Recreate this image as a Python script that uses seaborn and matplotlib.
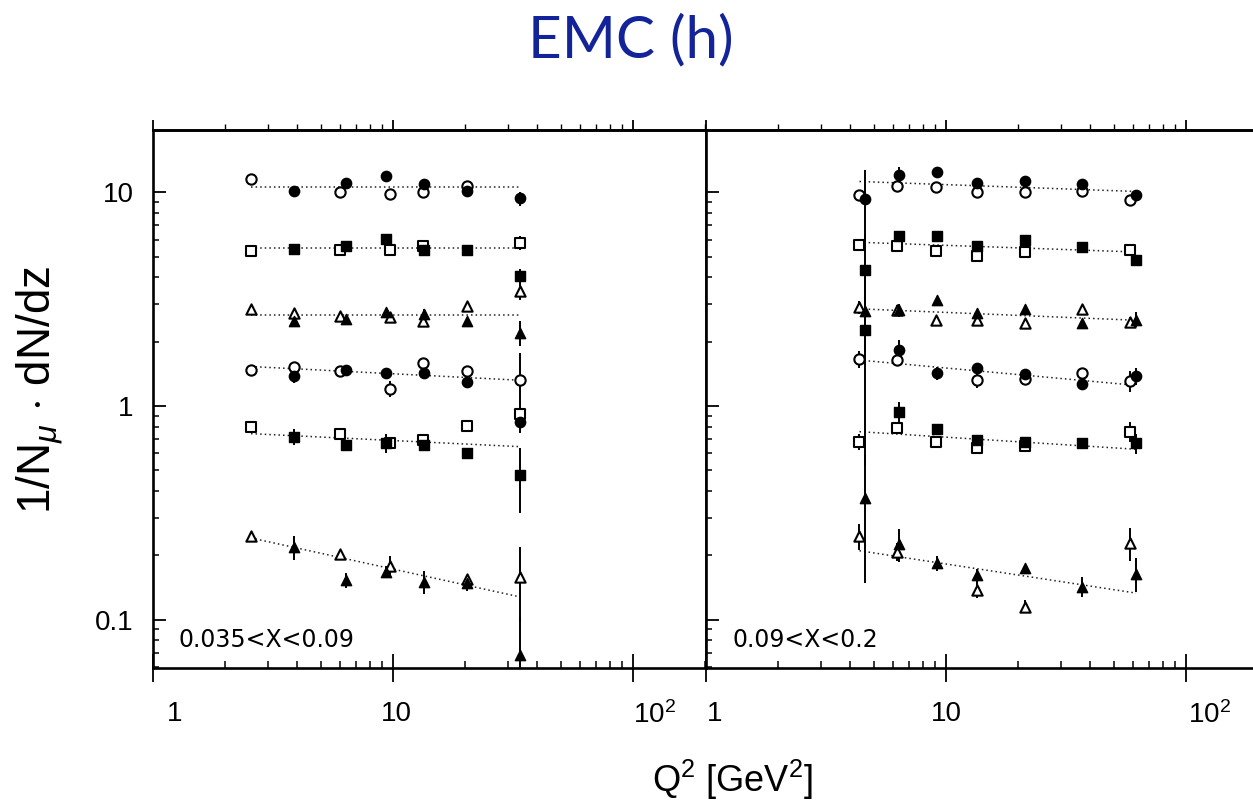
import numpy as np
import matplotlib
matplotlib.use("Agg")
import matplotlib.pyplot as plt
from matplotlib.ticker import FixedLocator, LogLocator, NullFormatter
from matplotlib.transforms import ScaledTranslation
import seaborn as sns

# ---------------------------------------------------------------------------
# Data: 1/N_mu dN/dz versus Q^2 for six z bins (rows, top to bottom).
# Rows alternate markers: circle, square, triangle, circle, square, triangle.
# Open symbols and filled symbols are two independent samples.
# ---------------------------------------------------------------------------
ROW_MARKERS = ["o", "s", "^", "o", "s", "^"]

# Panel 1: 0.035 < x < 0.09
L_OPEN_Q2 = [
    [2.56, 6.04, 9.72, 13.3, 20.4],
    [2.56, 6.04, 9.72, 13.3, 33.7],
    [2.56, 3.88, 6.04, 9.72, 13.3, 20.4, 33.7],
    [2.56, 3.88, 6.04, 9.72, 13.3, 20.4, 33.7],
    [2.56, 6.04, 9.72, 13.3, 20.4, 33.7],
    [2.56, 6.04, 9.72, 20.4, 33.7],
]
L_OPEN_Y = [
    [11.6, 10.0, 9.86, 10.0, 10.67],
    [5.30, 5.36, 5.39, 5.64, 5.80],
    [2.83, 2.73, 2.65, 2.61, 2.51, 2.95, 3.47],
    [1.48, 1.53, 1.46, 1.205, 1.59, 1.46, 1.32],
    [0.795, 0.74, 0.668, 0.693, 0.806, 0.92],
    [0.246, 0.203, 0.1775, 0.155, 0.158],
]
L_OPEN_ERR = [
    [0.0, 0.0, 0.0, 0.3, 0.0],
    [0.15, 0.0, 0.0, 0.2, 0.45],
    [0.0, 0.0, 0.0, 0.0, 0.15, 0.0, 0.35],
    [0.05, 0.0, 0.0, 0.1, 0.08, 0.06, 0.45],
    [0.03, 0.0, 0.04, 0.05, 0.04, 0.05],
    [0.0, 0.0, 0.02, 0.0, 0.06],
]
L_FILL_Q2 = [
    [3.88, 6.40, 9.39, 13.4, 20.3, 33.7],
    [3.88, 6.40, 9.39, 13.4, 20.3, 33.7],
    [3.88, 6.40, 9.39, 13.4, 20.3, 33.7],
    [3.88, 6.40, 9.39, 13.4, 20.3, 33.7],
    [3.88, 6.40, 9.39, 13.4, 20.3, 33.7],
    [3.88, 6.40, 9.39, 13.4, 20.3, 33.7],
]
L_FILL_Y = [
    [10.2, 11.06, 11.96, 10.98, 10.2, 9.37],
    [5.43, 5.64, 6.07, 5.39, 5.39, 4.05],
    [2.51, 2.56, 2.75, 2.71, 2.50, 2.20],
    [1.38, 1.48, 1.42, 1.43, 1.29, 0.844],
    [0.718, 0.657, 0.673, 0.657, 0.604, 0.475],
    [0.219, 0.153, 0.1675, 0.150, 0.1487, 0.068],
]
L_FILL_ERR = [
    [0.0, 0.4, 0.0, 0.4, 0.0, 0.7],
    [0.25, 0.0, 0.0, 0.0, 0.0, 0.35],
    [0.15, 0.0, 0.1, 0.15, 0.0, 0.3],
    [0.1, 0.0, 0.0, 0.06, 0.0, 0.1],
    [0.06, 0.03, 0.07, 0.04, 0.0, 0.16],
    [0.028, 0.012, 0.01, 0.018, 0.012, 0.035],
]
L_FIT_Q2 = [2.56, 33.7]
L_FIT_Y = [
    [10.55, 10.55],
    [5.50, 5.50],
    [2.68, 2.68],
    [1.53, 1.32],
    [0.742, 0.645],
    [0.241, 0.1277],
]

# Panel 2: 0.09 < x < 0.2
R_OPEN_Q2 = [
    [4.36, 6.22, 9.05, 13.49, 21.4, 36.8, 58.2],
    [4.36, 6.22, 9.05, 13.49, 21.4, 58.2],
    [4.36, 6.22, 9.05, 13.49, 21.4, 36.8, 58.2],
    [4.36, 6.22, 13.49, 21.4, 36.8, 58.2],
    [4.36, 6.22, 9.05, 13.49, 21.4, 58.2],
    [4.36, 6.22, 13.49, 21.4, 58.2],
]
R_OPEN_Y = [
    [9.75, 10.74, 10.55, 10.0, 10.0, 10.2, 9.24],
    [5.65, 5.64, 5.34, 5.06, 5.24, 5.39],
    [2.91, 2.81, 2.54, 2.54, 2.45, 2.83, 2.47],
    [1.664, 1.64, 1.318, 1.342, 1.432, 1.309],
    [0.681, 0.791, 0.681, 0.634, 0.650, 0.758],
    [0.246, 0.2077, 0.138, 0.115, 0.2275],
]
R_OPEN_ERR = [
    [0.5, 0.0, 0.0, 0.0, 0.0, 0.0, 0.3],
    [0.0, 0.0, 0.0, 0.0, 0.0, 0.3],
    [0.2, 0.15, 0.0, 0.1, 0.0, 0.0, 0.15],
    [0.15, 0.0, 0.1, 0.0, 0.0, 0.15],
    [0.06, 0.0, 0.0, 0.04, 0.0, 0.08],
    [0.035, 0.02, 0.012, 0.008, 0.04],
]
R_FILL_Q2 = [
    [4.6, 6.38, 9.2, 13.49, 21.4, 36.8, 61.9],
    [4.6, 6.38, 9.2, 13.49, 21.4, 36.8, 61.9],
    [4.6, 6.38, 9.2, 13.49, 21.4, 36.8, 61.9],
    [6.38, 9.2, 13.49, 21.4, 36.8, 61.9],
    [4.6, 6.38, 9.2, 13.49, 21.4, 36.8, 61.9],
    [4.6, 6.38, 9.2, 13.49, 21.4, 36.8, 61.9],
]
R_FILL_Y = [
    [9.34, 12.1, 12.4, 11.1, 11.3, 10.94, 9.75],
    [4.32, 6.27, 6.27, 5.64, 5.97, 5.53, 4.81],
    [2.78, 2.80, 3.15, 2.73, 2.83, 2.45, 2.54],
    [1.827, 1.43, 1.51, 1.406, 1.272, 1.38],
    [2.28, 0.940, 0.778, 0.693, 0.681, 0.673, 0.668],
    [0.369, 0.2256, 0.183, 0.161, 0.1745, 0.1424, 0.164],
]
R_FILL_ERR = [
    [3.4, 1.0, 0.0, 0.0, 0.5, 0.0, 0.0],
    [2.0, 0.0, 0.0, 0.0, 0.0, 0.2, 0.0],
    [1.0, 0.2, 0.0, 0.0, 0.0, 0.0, 0.2],
    [0.2, 0.1, 0.0, 0.0, 0.0, 0.12],
    [1.75, 0.1, 0.04, 0.04, 0.0, 0.03, 0.07],
    [0.22, 0.04, 0.015, 0.012, 0.0, 0.015, 0.03],
]
R_FIT_Q2 = [4.36, 61.9]
R_FIT_Y = [
    [11.25, 10.1],
    [5.84, 5.26],
    [2.85, 2.52],
    [1.64, 1.249],
    [0.758, 0.627],
    [0.210, 0.133],
]

PANEL_LABELS = ["0.035<X<0.09", "0.09<X<0.2"]
X_TICKS = [1, 10, 100]
X_TICK_LABELS = ["1", "10", "10$^2$"]
Y_TICKS = [0.1, 1, 10]
Y_TICK_LABELS = ["0.1", "1", "10"]

# ---------------------------------------------------------------------------
sns.set_style("ticks")
plt.rcParams["font.family"] = ["Liberation Sans", "DejaVu Sans"]
plt.rcParams["mathtext.fontset"] = "custom"
plt.rcParams["mathtext.rm"] = "Liberation Sans"
plt.rcParams["mathtext.it"] = "Liberation Sans:italic"
plt.rcParams["mathtext.bf"] = "Liberation Sans:bold"
for key in ("text.color", "axes.labelcolor", "xtick.color", "ytick.color",
            "axes.edgecolor"):
    plt.rcParams[key] = "black"

W, H = 1253, 806
fig = plt.figure(figsize=(W / 100, H / 100), dpi=100)

AX_TOP, AX_BOTTOM = 130, 668
X_LEFT, X_MID = 153, 706
DECADE_X = 240.0
XLIM = (1.0, 10 ** ((X_MID - X_LEFT) / DECADE_X))
YLIM = (0.0593, 19.6)


def px_rect(x0, x1):
    return [x0 / W, 1 - AX_BOTTOM / H, (x1 - x0) / W, (AX_BOTTOM - AX_TOP) / H]


ax_l = fig.add_axes(px_rect(X_LEFT, X_MID))
ax_r = fig.add_axes(px_rect(X_MID, X_MID + (X_MID - X_LEFT)))

panels = [
    (ax_l, L_OPEN_Q2, L_OPEN_Y, L_OPEN_ERR, L_FILL_Q2, L_FILL_Y, L_FILL_ERR, L_FIT_Q2, L_FIT_Y),
    (ax_r, R_OPEN_Q2, R_OPEN_Y, R_OPEN_ERR, R_FILL_Q2, R_FILL_Y, R_FILL_ERR, R_FIT_Q2, R_FIT_Y),
]

MS = 55  # marker area in pt^2
for ax, oq, oy, oe, fq, fy, fe, fitq, fity in panels:
    ax.set_xscale("log")
    ax.set_yscale("log")
    for i, m in enumerate(ROW_MARKERS):
        # fitted power law (straight line in log-log)
        sns.lineplot(x=fitq, y=fity[i], ax=ax, color="#222222", lw=1.1,
                     linestyle=(0, (1, 2.0)), estimator=None, zorder=1)
        # error bars
        ax.errorbar(oq[i], oy[i], yerr=oe[i], fmt="none", ecolor="black",
                    elinewidth=1.4, capsize=0, zorder=2)
        ax.errorbar(fq[i], fy[i], yerr=fe[i], fmt="none", ecolor="black",
                    elinewidth=1.4, capsize=0, zorder=2)
        # open symbols
        sns.scatterplot(x=oq[i], y=oy[i], ax=ax, marker=m, s=MS,
                        color="white", edgecolor="black", linewidth=1.5,
                        zorder=3, legend=False)
        # filled symbols
        sns.scatterplot(x=fq[i], y=fy[i], ax=ax, marker=m, s=MS,
                        color="black", edgecolor="black", linewidth=1.0,
                        zorder=4, legend=False)

    ax.set_xlim(*XLIM)
    ax.set_ylim(*YLIM)
    ax.set_xlabel("")
    ax.set_ylabel("")
    for s in ax.spines.values():
        s.set_linewidth(1.9)
        s.set_color("black")
    ax.spines["top"].set_visible(True)
    ax.spines["right"].set_visible(ax is ax_l)

    ax.xaxis.set_major_locator(FixedLocator(X_TICKS))
    ax.xaxis.set_minor_locator(LogLocator(base=10, subs=np.arange(2, 10)))
    ax.xaxis.set_minor_formatter(NullFormatter())
    ax.set_xticklabels(X_TICK_LABELS)
    ax.yaxis.set_major_locator(FixedLocator(Y_TICKS))
    ax.yaxis.set_minor_locator(LogLocator(base=10, subs=np.arange(2, 10)))
    ax.yaxis.set_minor_formatter(NullFormatter())

    ax.tick_params(axis="x", which="major", direction="inout", length=20,
                   width=1.3, labelsize=20, pad=14, top=False,
                   color="black", labelcolor="black")
    ax.tick_params(axis="x", which="minor", direction="in", length=5,
                   width=1.1, top=False, color="black")
    ax.tick_params(axis="y", which="major", direction="in", length=9,
                   width=1.3, labelsize=20, pad=14, right=False,
                   color="black", labelcolor="black")
    ax.tick_params(axis="y", which="minor", direction="in", length=4.5,
                   width=1.1, right=False, color="black")

    # ticks on the upper frame point outward
    sec = ax.secondary_xaxis("top")
    sec.xaxis.set_major_locator(FixedLocator(X_TICKS))
    sec.xaxis.set_minor_locator(LogLocator(base=10, subs=np.arange(2, 10)))
    sec.xaxis.set_major_formatter(NullFormatter())
    sec.xaxis.set_minor_formatter(NullFormatter())
    sec.tick_params(which="major", direction="out", length=7, width=1.3,
                    color="black")
    sec.tick_params(which="minor", direction="out", length=4, width=1.0,
                    color="black")
    sec.spines["top"].set_linewidth(1.9)
    sec.spines["top"].set_color("black")

ax_l.set_yticklabels(Y_TICK_LABELS)
ax_r.tick_params(axis="y", which="both", labelleft=False)

# horizontal nudges of the Q^2 tick labels (in pixels)
label_shift = {ax_l: [22, 3, 22], ax_r: [9, 0, 24]}
for ax, shifts in label_shift.items():
    for lab, dx in zip(ax.get_xticklabels(), shifts):
        lab.set_transform(lab.get_transform() +
                          ScaledTranslation(dx / 100, 0, fig.dpi_scale_trans))

# bin labels
ax_l.text((178 - X_LEFT) / (X_MID - X_LEFT), 0.039, PANEL_LABELS[0],
          transform=ax_l.transAxes, fontsize=17, family="DejaVu Sans",
          ha="left", va="baseline", color="black")
ax_r.text((732 - X_MID) / (X_MID - X_LEFT), 0.039, PANEL_LABELS[1],
          transform=ax_r.transAxes, fontsize=17, family="DejaVu Sans",
          ha="left", va="baseline", color="black")

# axis titles and heading
fig.text(40 / W, 1 - 390 / H, "1/N$_{\\mu}$ $\\cdot$ dN/dz", rotation=90,
         fontsize=33, ha="center", va="center", color="black")
fig.text(732 / W, 1 - 780 / H, "Q$^2$ [GeV$^2$]", fontsize=26,
         ha="center", va="center", color="black")
fig.text(631 / W, 1 - 57 / H, "EMC (h)", fontsize=42, family="Lato",
         color="#13239a", ha="center", va="baseline")

fig.savefig("out.png", dpi=100)
